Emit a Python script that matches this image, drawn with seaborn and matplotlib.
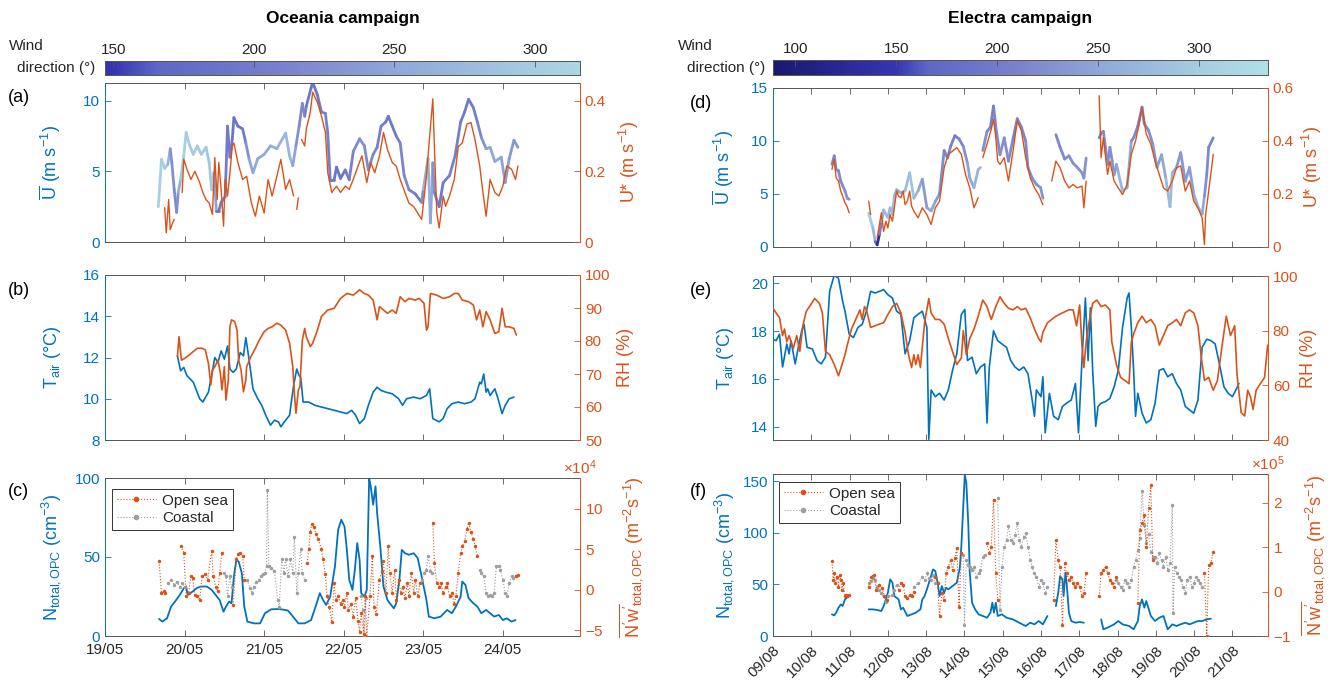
import numpy as np
import matplotlib
matplotlib.use("Agg")
import matplotlib.pyplot as plt
from matplotlib.collections import LineCollection
from matplotlib.colors import LinearSegmentedColormap, Normalize
from matplotlib.lines import Line2D
from matplotlib.ticker import ScalarFormatter, FuncFormatter
import seaborn as sns

nan = np.nan

# ---------------- Oceania campaign (days after 19/05 00:00) ----------------
oce_days = ["19/05", "20/05", "21/05", "22/05", "23/05", "24/05"]

oce_u_day = [0.67, 0.71, 0.75, 0.79, 0.82, 0.84, 0.87, 0.90, 0.92, 0.95, 0.99, 1.02, 1.06, 1.11, 1.16,
             1.21, 1.27, 1.31, 1.34, 1.37, 1.40, 1.43, 1.46, 1.51, 1.54, 1.57, 1.60, 1.62, 1.67, 1.73,
             1.77, 1.81, 1.86, 1.92, 2.00, 2.08, 2.16, 2.24, 2.27, 2.32, 2.36, 2.40, 2.44, 2.48, 2.51,
             2.53, 2.59, 2.61, 2.67, 2.72, 2.77, 2.80, 2.83, 2.88, 2.91, 2.96, 3.02, 3.07, 3.12, 3.20,
             3.26, 3.31, 3.37, 3.42, 3.47, 3.53, 3.56, 3.61, 3.66, 3.71, 3.76, 3.82, 3.90, 3.98, 4.00,
             4.06, 4.09, 4.12, 4.14, 4.20, 4.25, 4.33, 4.40, 4.47, 4.52, 4.57, 4.63, 4.68, 4.73, 4.79,
             4.84, 4.90, 4.98, 5.03, 5.08, 5.14, 5.19]
oce_u = [2.5, 5.85, 5.2, 5.5, 6.6, 5.6, 3.7, 2.1, 3.5, 4.4, 6.1, 7.75, 6.9, 6.2, 6.8,
         6.2, 6.7, 5.6, 3.7, 4.9, 2.2, 2.2, 2.8, 3.2, 8.2, 6.0, 7.3, 8.8, 8.2, 8.0,
         7.0, 5.9, 4.9, 5.9, 6.2, 6.8, 6.6, 7.4, 7.7, 6.1, 5.4, 6.8, 8.2, 9.8, 8.9,
         9.6, 10.9, 11.3, 10.4, 9.2, 9.1, 7.7, 4.4, 4.4, 5.3, 4.5, 5.1, 4.4, 6.4, 7.3,
         6.8, 5.1, 6.2, 6.7, 8.2, 8.5, 8.9, 8.2, 7.5, 7.0, 4.7, 3.7, 3.4, 2.8, 3.7,
         5.9, 1.35, 5.6, 3.5, 2.5, 4.2, 4.7, 6.1, 8.5, 9.2, 10.1, 9.5, 8.5, 7.4, 6.6,
         6.7, 5.7, 6.0, 4.2, 5.9, 7.2, 6.7]
oce_wdir = [305, 305, 300, 300, 230, 220, 225, 215, 230, 290, 300, 305, 300, 300, 295,
            295, 290, 290, 300, 300, 190, 190, 195, 200, 200, 200, 190, 185, 185, 190,
            210, 240, 250, 250, 255, 255, 260, 265, 270, 270, 265, 230, 220, 210, 215,
            200, 190, 185, 190, 200, 205, 210, 195, 190, 190, 185, 195, 200, 215, 220,
            225, 215, 215, 210, 200, 195, 190, 195, 200, 210, 215, 210, 200, 190, 250,
            270, 260, 240, 210, 190, 195, 205, 210, 200, 195, 195, 200, 205, 215, 240,
            250, 250, 250, 240, 235, 230, 235]

oce_ustar_day = [0.75, 0.77, 0.80, 0.82, 0.85, 0.87, nan,
                 0.97, 0.99, 1.03, 1.08, 1.13, 1.19, 1.23, 1.27, 1.31, 1.35, 1.38, 1.41, 1.43, 1.46,
                 1.49, 1.51, 1.54, 1.57, 1.60, 1.62, 1.67, 1.73, 1.78, 1.84, 1.89, 1.94, 2.00, 2.05,
                 2.10, 2.16, 2.21, 2.27, 2.32, 2.37, nan, 2.41, 2.43, nan,
                 2.47, 2.51, 2.53, 2.58, 2.61, 2.67, 2.72, 2.77, 2.80, 2.85, 2.91, 2.96, 3.02, 3.07,
                 3.12, 3.18, 3.23, 3.29, 3.34, 3.39, 3.45, 3.50, 3.55, 3.61, 3.66, 3.71, 3.77, 3.82,
                 3.88, 3.93, 3.98, 4.04, 4.06, 4.12, 4.14, 4.17, 4.20, 4.25, 4.28, 4.33, 4.39, 4.44,
                 4.49, 4.55, 4.60, 4.65, 4.71, 4.74, 4.79, 4.84, 4.90, 4.95, 5.00, 5.05, 5.11, 5.16,
                 5.19]
oce_ustar = [0.097, 0.026, 0.12, 0.035, 0.054, 0.064, nan,
             0.14, 0.234, 0.206, 0.177, 0.2, 0.168, 0.14, 0.12, 0.11, 0.078, 0.239, 0.12, 0.225, 0.149,
             0.045, 0.177, 0.13, 0.196, 0.272, 0.28, 0.225, 0.177, 0.186, 0.11, 0.073, 0.13, 0.082, 0.177,
             0.13, 0.186, 0.234, 0.149, 0.177, 0.13, nan, 0.092, 0.125, nan,
             0.29, 0.272, 0.32, 0.367, 0.424, 0.395, 0.357, 0.31, 0.196, 0.14, 0.158, 0.14, 0.158, 0.149,
             0.177, 0.215, 0.244, 0.168, 0.225, 0.196, 0.244, 0.31, 0.262, 0.225, 0.215, 0.177, 0.14, 0.11,
             0.1, 0.082, 0.064, 0.186, 0.244, 0.405, 0.272, 0.082, 0.04, 0.13, 0.101, 0.13, 0.177, 0.27,
             0.28, 0.334, 0.338, 0.29, 0.215, 0.158, 0.073, 0.177, 0.14, 0.13, 0.158, 0.215, 0.206, 0.177,
             0.215]

oce_tair_day = [0.91, 0.95, 0.99, 1.03, 1.11, 1.19, 1.23, 1.30, 1.34, 1.38, 1.42, 1.46, 1.50, 1.54, 1.57,
                1.61, 1.65, 1.70, 1.74, 1.77, 1.81, 1.86, 1.92, 1.97, 2.02, 2.08, 2.13, 2.18, 2.21, 2.27,
                2.32, 2.37, 2.41, 2.44, 2.46, 2.49, 2.56, 2.64, 2.72, 2.80, 2.88, 2.96, 3.04, 3.10, 3.15,
                3.20, 3.26, 3.31, 3.37, 3.42, 3.47, 3.53, 3.61, 3.69, 3.74, 3.79, 3.88, 3.96, 4.04, 4.08,
                4.12, 4.20, 4.25, 4.30, 4.36, 4.44, 4.52, 4.60, 4.65, 4.71, 4.73, 4.76, 4.79, 4.81, 4.84,
                4.90, 4.94, 4.99, 5.03, 5.08, 5.14]
oce_tair = [12.08, 11.36, 11.52, 11.12, 10.80, 10.00, 9.84, 10.32, 11.12, 12.00, 11.76, 12.32, 11.92, 12.56, 11.44,
            11.28, 11.44, 12.24, 12.08, 12.96, 11.92, 10.48, 10.00, 9.68, 9.20, 8.72, 8.96, 8.88, 8.64, 8.96,
            9.20, 10.64, 11.44, 11.12, 11.04, 9.84, 9.84, 9.68, 9.60, 9.52, 9.44, 9.36, 9.28, 9.44, 9.20,
            8.80, 9.04, 9.68, 10.32, 10.56, 10.40, 10.32, 10.24, 10.00, 9.68, 10.00, 10.08, 10.00, 10.16, 10.48,
            9.04, 8.88, 9.04, 9.52, 9.76, 9.84, 9.76, 9.84, 10.00, 10.80, 10.72, 11.20, 10.32, 10.48, 10.16,
            10.48, 10.00, 9.28, 9.68, 10.00, 10.08]

oce_rh_day = [0.91, 0.93, 0.96, 1.00, 1.06, 1.11, 1.16, 1.22, 1.26, 1.30, 1.33, 1.35, 1.38, 1.42, 1.45,
              1.47, 1.50, 1.52, 1.55, 1.57, 1.59, 1.63, 1.66, 1.68, 1.71, 1.74, 1.77, 1.78, 1.835, 1.89,
              1.94, 2.00, 2.05, 2.10, 2.16, 2.21, 2.27, 2.32, 2.36, 2.38, 2.40, 2.43, 2.45, 2.48, 2.51,
              2.53, 2.58, 2.61, 2.67, 2.72, 2.80, 2.88, 2.96, 3.04, 3.12, 3.20, 3.26, 3.31, 3.37, 3.42,
              3.45, 3.50, 3.55, 3.61, 3.66, 3.71, 3.77, 3.82, 3.90, 3.95, 4.01, 4.04, 4.06, 4.09, 4.17,
              4.25, 4.33, 4.39, 4.44, 4.49, 4.57, 4.63, 4.67, 4.71, 4.75, 4.79, 4.84, 4.90, 4.95, 4.99,
              5.03, 5.08, 5.14, 5.17]
oce_rh = [75.3, 81.3, 74.2, 74.7, 75.8, 76.8, 77.8, 77.8, 77.3, 73.2, 66.7, 71.2, 72.2, 74.2, 70.2,
          65.2, 72.2, 62.1, 68.2, 84.3, 86.4, 85.9, 83.3, 74.2, 71.2, 64.6, 68.2, 72.2, 75.3, 77.8,
          80.3, 82.8, 83.8, 84.3, 85.4, 84.8, 83.3, 79.3, 72.2, 64.1, 58.1, 65.1, 66.2, 80.3, 83.8,
          81.3, 78.3, 79.3, 83.3, 87.4, 89.4, 89.9, 92.9, 94.4, 93.9, 95.5, 94.4, 93.9, 92.4, 86.4,
          90.4, 89.4, 88.4, 89.4, 88.4, 93.4, 91.9, 92.9, 92.4, 92.9, 91.4, 83.3, 84.3, 94.4, 93.9,
          92.9, 93.4, 94.4, 94.4, 92.4, 91.9, 90.9, 86.4, 89.4, 84.3, 88.9, 86.4, 82.3, 82.8, 89.9,
          84.3, 84.3, 83.8, 81.8]

oce_n_day = [0.68, 0.72, 0.78, 0.83, 0.88, 0.94, 0.99, 1.02, 1.04, 1.10, 1.15, 1.20, 1.28, 1.34, 1.39,
             1.44, 1.49, 1.52, 1.56, 1.59, 1.62, 1.65, 1.68, 1.72, 1.75, 1.79, 1.87, 1.95, 2.01, 2.09,
             2.19, 2.30, 2.38, 2.43, 2.51, 2.59, 2.66, 2.70, 2.74, 2.78, 2.83, 2.89, 2.93, 2.97, 3.01,
             3.04, 3.07, 3.11, 3.14, 3.17, 3.20, 3.22, 3.26, 3.29, 3.32, 3.34, 3.37, 3.40, 3.42, 3.46,
             3.50, 3.55, 3.58, 3.63, 3.66, 3.70, 3.73, 3.77, 3.82, 3.88, 3.93, 3.98, 4.04, 4.07, 4.14,
             4.22, 4.30, 4.36, 4.41, 4.47, 4.49, 4.53, 4.57, 4.63, 4.68, 4.73, 4.79, 4.84, 4.89, 4.95,
             5.00, 5.05, 5.11, 5.16]
oce_n = [10.8, 9.1, 11.2, 18.6, 21.8, 26.0, 30.2, 31.3, 26.0, 28.1, 30.2, 31.3, 31.3, 29.2, 26.0,
         22.8, 15.4, 18.6, 21.8, 20.7, 37.6, 48.2, 47.1, 39.7, 18.6, 9.1, 8.0, 8.0, 14.4, 16.9,
         17.1, 16.1, 11.2, 8.0, 8.0, 10.1, 20.7, 27.1, 22.8, 19.7, 24.9, 44.0, 67.2, 73.6, 69.3,
         54.5, 35.5, 29.2, 41.9, 58.8, 48.2, 27.1, 24.9, 29.2, 99.8, 94.7, 83.1, 94.7, 77.8, 56.7,
         31.3, 22.8, 20.7, 17.5, 20.7, 35.5, 54.5, 52.4, 51.4, 52.4, 49.3, 37.6, 22.8, 12.3, 11.2,
         12.3, 16.5, 14.4, 18.6, 24.9, 34.5, 32.3, 23.9, 20.7, 18.6, 14.4, 16.5, 14.4, 12.3, 13.3,
         10.1, 11.2, 9.1, 10.1]

# turbulent number flux, units of 1e4 m-2 s-1
oce_open_day = [0.68, 0.71, 0.74, 0.76, nan,
                0.95, 0.99, 1.02, 1.05, 1.08, 1.10, 1.13, 1.16, 1.19, 1.22, 1.26, 1.29, 1.34, 1.36, 1.39,
                1.42, 1.44, 1.47, nan,
                1.61, 1.65, 1.67, 1.70, 1.73, 1.75, nan,
                2.54, 2.56, 2.58, 2.60, 2.63, 2.65, 2.68, 2.72, 2.74, 2.77, 2.79, 2.82, 2.85, 2.88, 2.90,
                2.93, 2.96, 2.99, 3.01, 3.04, 3.06, 3.09, 3.12, 3.15, 3.18, 3.20, 3.22, 3.25, 3.27, 3.29,
                3.33, 3.36, 3.38, 3.41, 3.45, 3.48, 3.50, 3.53, 3.56, 3.58, 3.61, 3.64, 3.66, 3.69, 3.72,
                3.74, 3.77, 3.80, 3.82, 3.85, 3.88, 3.90, 3.93, 3.96, nan,
                4.12, 4.14, 4.17, 4.20, 4.22, 4.25, 4.28, 4.30, 4.33, 4.36, 4.39, 4.41, 4.44, 4.47, 4.49,
                4.52, 4.55, 4.57, 4.60, 4.63, 4.65, 4.68, nan,
                5.16, 5.19]
oce_open_flux = [3.5, -0.4, -0.2, -0.4, nan,
                 5.4, 4.6, -0.8, -0.4, 1.7, 1.5, -0.6, -0.8, -1.25, 1.7, 1.9, 1.25, 4.8, 1.7, 0.4,
                 -0.2, 2.1, 4.6, nan,
                 -1.9, 3.75, 4.4, 4.6, 4.2, 1.25, nan,
                 3.3, 5.0, 7.1, 8.1, 7.7, 6.9, 6.25, 5.0, 3.75, 1.9, -0.8, -2.1, -4.0, 0.8, -1.25,
                 -0.8, -1.7, -1.25, -2.1, -0.4, -2.5, -1.7, -3.3, -1.0, -3.8, -5.2, -2.9, -5.4, -0.8, -5.8,
                 -0.8, 4.2, -2.1, -3.0, 1.25, 2.3, 3.5, -0.4, 5.4, 2.1, -0.4, 2.5, -1.25, 1.25, -0.4,
                 0.4, -1.0, 0.8, -0.8, 2.1, -0.4, 1.25, -0.8, 0.8, nan,
                 8.3, 3.3, 0.8, 0.4, 0.8, -0.4, 0.4, 0.8, -0.8, -0.4, -1.7, -0.8, 2.1, 4.6, 5.4,
                 6.0, 7.5, 8.3, 7.1, 6.25, 5.4, 4.2, nan,
                 1.7, 1.8]
oce_coast_day = [0.79, 0.83, 0.87, 0.90, 0.94, 0.97, 1.00, nan,
                 1.49, 1.52, 1.54, 1.57, 1.59, nan,
                 1.79, 1.82, 1.85, 1.87, 1.90, 1.93, 1.96, 1.98, 2.01, 2.03, 2.04, 2.06, 2.09, 2.13, 2.17,
                 2.19, 2.22, 2.25, 2.27, 2.30, 2.33, 2.36, 2.38, 2.41, 2.43, 2.46, 2.48, 2.51, nan,
                 3.22, 3.24, 3.26, 3.28, nan,
                 3.98, 4.01, 4.04, 4.06, 4.09, 4.11, nan,
                 4.71, 4.73, 4.76, 4.79, 4.81, 4.84, 4.87, 4.89, 4.92, 4.95, 4.97, 5.00, 5.03, 5.05, 5.08,
                 5.11, 5.13, 5.16]
oce_coast_flux = [0.8, 1.25, 0.6, 1.0, 0.4, 0.8, 0.4, nan,
                  2.1, 1.7, -0.8, 1.7, 0.4, nan,
                  1.25, 0.2, -0.4, 0.4, 1.0, 1.25, 1.7, 1.9, 2.1, 2.9, 12.3, 2.9, 2.7, 2.3, -1.25,
                  -2.1, 3.75, 2.1, 3.75, 1.7, 3.75, 2.1, 6.5, -0.4, 2.1, 5.0, 2.1, 1.25, nan,
                  -0.8, -2.5, -5.7, -1.0, nan,
                  1.25, 2.1, 2.5, 4.2, 2.3, 2.1, nan,
                  2.5, 2.1, 1.7, -0.4, -0.8, -0.6, -0.8, -0.4, 2.9, 2.9, 2.5, 1.25, -0.4, -0.8, 0.8,
                  1.7, 1.5, 1.7]

# ---------------- Electra campaign (days after 09/08 00:00) ----------------
ele_days = ["09/08", "10/08", "11/08", "12/08", "13/08", "14/08", "15/08", "16/08", "17/08",
            "18/08", "19/08", "20/08", "21/08"]

ele_u_day = [1.54, 1.60, 1.65, 1.71, 1.77, 1.82, 1.88, 1.94, 1.99, nan,
             2.50, 2.56, 2.61, 2.67, 2.72, 2.78, 2.84, 2.89, 2.95, 3.00, 3.06, 3.12, 3.17, 3.23, 3.34,
             3.45, 3.57, 3.68, 3.79, 3.90, 4.02, 4.13, 4.24, 4.35, 4.47, 4.56, 4.64, 4.75, 4.86, 4.97,
             5.08, 5.14, 5.25, 5.36, 5.42, nan,
             5.48, 5.59, 5.68, 5.76, 5.82, 5.93, 6.04, 6.15, 6.27, 6.38, 6.49, 6.60, 6.66, 6.77, 6.88,
             6.99, 7.05, nan,
             7.39, 7.50, 7.62, 7.73, 7.84, 7.95, 8.07, 8.12, 8.18, nan,
             8.52, 8.58, 8.63, 8.74, 8.80, 8.86, 8.91, 8.97, 9.02, 9.13, 9.25, 9.36, 9.42, 9.53, 9.64,
             9.70, 9.81, 9.92, 10.03, 10.15, 10.26, 10.37, 10.43, 10.54, 10.65, 10.77, 10.88, 10.99,
             11.10, 11.21, 11.27, 11.33, 11.38, 11.50]
ele_u = [7.8, 8.6, 7.3, 7.2, 6.2, 5.8, 5.3, 4.6, 4.5, nan,
         3.2, 2.4, 1.8, 0.5, 0.2, 1.2, 2.4, 3.5, 3.1, 2.8, 3.7, 3.1, 4.8, 5.4, 5.1,
         5.3, 7.0, 4.6, 5.3, 6.4, 3.7, 3.4, 4.3, 5.0, 9.1, 8.4, 9.5, 10.5, 10.2, 9.5,
         7.9, 6.5, 5.6, 7.3, 7.5, nan,
         9.1, 10.9, 11.3, 13.3, 11.3, 8.7, 10.3, 8.1, 10.2, 12.1, 11.3, 10.0, 7.5, 6.5, 5.9,
         5.6, 4.6, nan,
         10.6, 9.4, 8.3, 8.6, 7.9, 7.5, 7.0, 6.5, 8.4, nan,
         10.3, 10.8, 10.9, 7.8, 9.4, 8.1, 6.8, 7.8, 7.0, 5.3, 5.6, 10.0, 10.3, 11.4, 13.2,
         11.6, 11.0, 9.7, 7.5, 8.7, 6.5, 3.8, 7.0, 7.5, 8.9, 6.2, 7.5, 5.0,
         3.8, 3.1, 4.8, 6.8, 9.4, 10.3]
ele_wdir = [215, 210, 215, 215, 220, 220, 225, 225, 230, nan,
            300, 295, 290, 250, 110, 150, 260, 270, 270, 275, 270, 275, 280, 250, 255,
            265, 295, 280, 270, 230, 240, 250, 240, 230, 210, 215, 210, 205, 210, 215,
            240, 250, 255, 270, 270, nan,
            230, 215, 210, 205, 215, 225, 220, 225, 215, 205, 210, 215, 220, 225, 225,
            230, 230, nan,
            215, 215, 220, 220, 225, 225, 230, 230, 225, nan,
            215, 210, 210, 225, 220, 225, 235, 240, 260, 275, 270, 225, 220, 215, 205,
            215, 220, 225, 240, 240, 260, 285, 270, 240, 225, 240, 230, 250,
            270, 275, 230, 220, 215, 210]

ele_ustar_day = [1.54, 1.60, 1.65, 1.71, 1.77, 1.82, 1.88, 1.93, 1.99, nan,
                 2.50, 2.55, nan,
                 2.72, 2.78, 2.83, 2.89, 2.95, 3.00, 3.06, 3.12, 3.23, 3.28, 3.34, 3.40, 3.45, 3.51,
                 3.57, 3.62, 3.68, 3.79, 3.90, 4.02, 4.13, 4.24, 4.35, 4.47, 4.58, 4.69, 4.80, 4.92,
                 5.03, 5.14, 5.25, 5.36, nan,
                 5.48, 5.59, 5.70, 5.76, 5.82, 5.87, 5.93, 6.04, 6.15, 6.27, 6.38, 6.49, 6.60, 6.72,
                 6.83, 6.94, 7.05, nan,
                 7.28, 7.39, 7.50, 7.62, 7.73, 7.84, 7.95, 8.07, 8.12, 8.18, nan,
                 8.52, 8.57, 8.63, 8.74, 8.80, 8.91, 9.02, 9.13, 9.25, 9.36, 9.47, 9.58, 9.64, 9.75,
                 9.87, 9.98, 10.09, 10.20, 10.31, 10.43, 10.54, 10.65, 10.77, 10.88, 10.99, 11.10,
                 11.21, 11.27, 11.30, 11.38, 11.50]
ele_ustar = [0.293, 0.331, 0.261, 0.249, 0.211, 0.192, 0.167, 0.154, 0.129, nan,
             0.173, 0.122, nan,
             0.034, 0.085, 0.129, 0.059, 0.097, 0.072, 0.122, 0.097, 0.211, 0.192, 0.186, 0.211, 0.160, 0.173,
             0.211, 0.154, 0.135, 0.110, 0.148, 0.122, 0.085, 0.148, 0.173, 0.299, 0.350, 0.362, 0.375, 0.350,
             0.274, 0.223, 0.148, 0.186, nan,
             0.337, 0.388, 0.444, 0.482, 0.413, 0.324, 0.312, 0.337, 0.249, 0.362, 0.476, 0.438, 0.337, 0.261,
             0.223, 0.198, 0.160, nan,
             0.249, 0.324, 0.299, 0.249, 0.223, 0.236, 0.223, 0.230, 0.148, 0.249, nan,
             0.571, 0.337, 0.413, 0.274, 0.324, 0.249, 0.223, 0.198, 0.236, 0.350, 0.400, 0.476, 0.527, 0.426,
             0.388, 0.324, 0.274, 0.223, 0.211, 0.249, 0.299, 0.306, 0.211, 0.249, 0.173, 0.148,
             0.110, 0.009, 0.122, 0.211, 0.350]

ele_tair_day = [0.00, 0.08, 0.17, 0.25, 0.36, 0.42, 0.47, 0.58, 0.66, 0.75, 0.81, 0.89, 1.03, 1.15, 1.26,
                1.37, 1.48, 1.60, 1.71, 1.82, 1.88, 1.99, 2.10, 2.22, 2.33, 2.44, 2.55, 2.67, 2.78, 2.89,
                3.00, 3.12, 3.23, 3.34, 3.45, 3.57, 3.68, 3.79, 3.90, 4.02, 4.07, 4.13, 4.24, 4.35, 4.47,
                4.58, 4.69, 4.80, 4.92, 5.01, 5.08, 5.20, 5.31, 5.42, 5.53, 5.59, 5.65, 5.76, 5.87, 5.98,
                6.10, 6.21, 6.32, 6.43, 6.55, 6.66, 6.77, 6.83, 6.88, 7.00, 7.05, 7.11, 7.22, 7.33, 7.45,
                7.56, 7.67, 7.79, 7.90, 7.98, 8.07, 8.16, 8.23, 8.29, 8.35, 8.43, 8.49, 8.57, 8.68, 8.80,
                8.91, 9.02, 9.13, 9.25, 9.30, 9.36, 9.42, 9.47, 9.53, 9.64, 9.75, 9.87, 9.98, 10.09, 10.20,
                10.31, 10.43, 10.54, 10.65, 10.77, 10.88, 10.99, 11.10, 11.21, 11.33, 11.44, 11.55, 11.66,
                11.78, 11.89, 12.00, 12.11, 12.17]
ele_tair = [17.66, 17.60, 17.87, 16.50, 17.46, 17.05, 17.60, 16.63, 17.32, 18.01, 18.28, 17.32, 17.25, 16.77, 16.63,
            16.91, 19.66, 20.34, 20.20, 19.24, 18.83, 17.87, 17.73, 18.15, 18.28, 18.83, 19.66, 19.59, 19.66, 19.73,
            19.52, 19.38, 18.83, 18.70, 17.05, 17.60, 18.56, 18.70, 18.83, 18.15, 13.48, 15.54, 15.26, 15.40, 15.12,
            15.54, 16.36, 17.05, 18.70, 18.90, 16.77, 16.91, 16.22, 16.50, 16.63, 14.16, 16.50, 18.01, 17.60, 17.46,
            17.32, 16.77, 16.50, 16.36, 16.50, 16.22, 15.12, 14.44, 15.54, 15.26, 16.09, 13.75, 15.40, 14.44, 14.30,
            14.85, 14.99, 15.12, 15.81, 13.75, 16.77, 19.38, 16.77, 18.97, 16.36, 14.02, 14.85, 14.99, 15.05, 15.19,
            15.67, 16.36, 18.15, 19.38, 19.59, 18.15, 16.36, 14.44, 15.40, 14.57, 14.16, 14.30, 14.99, 16.36, 16.43,
            16.09, 16.22, 15.81, 15.54, 14.85, 14.71, 14.57, 15.12, 17.32, 17.66, 17.60, 17.46, 16.63,
            15.67, 15.40, 15.26, 15.60, 15.81]

ele_rh_day = [0.00, 0.08, 0.17, 0.25, 0.30, 0.36, 0.42, 0.53, 0.62, 0.70, 0.78, 0.87, 0.98, 1.09, 1.21,
              1.29, 1.37, 1.48, 1.60, 1.71, 1.79, 1.88, 1.94, 2.05, 2.16, 2.27, 2.33, 2.39, 2.44, 2.55,
              2.67, 2.78, 2.89, 3.00, 3.12, 3.23, 3.34, 3.45, 3.54, 3.62, 3.68, 3.73, 3.79, 3.85, 3.96,
              4.07, 4.13, 4.24, 4.35, 4.47, 4.58, 4.69, 4.80, 4.92, 4.97, 5.05, 5.14, 5.25, 5.36, 5.48,
              5.59, 5.70, 5.82, 5.93, 6.04, 6.15, 6.27, 6.38, 6.49, 6.60, 6.72, 6.83, 6.94, 7.00, 7.05,
              7.17, 7.28, 7.39, 7.56, 7.73, 7.84, 7.93, 8.01, 8.07, 8.12, 8.18, 8.24, 8.35, 8.46, 8.57,
              8.68, 8.80, 8.85, 8.97, 9.08, 9.19, 9.30, 9.36, 9.42, 9.53, 9.64, 9.75, 9.87, 9.98, 10.09,
              10.20, 10.31, 10.43, 10.54, 10.65, 10.77, 10.88, 10.99, 11.10, 11.19, 11.27, 11.38, 11.50,
              11.61, 11.72, 11.84, 11.95, 12.06, 12.12, 12.23, 12.32, 12.40, 12.47, 12.54, 12.62, 12.73,
              12.84, 12.92]
ele_rh = [88.2, 86.5, 84.7, 78.2, 80.6, 75.9, 78.2, 73.5, 78.2, 72.4, 81.8, 87.1, 89.4, 91.8, 90.0,
          86.5, 72.4, 71.2, 67.6, 63.5, 67.0, 71.2, 74.7, 80.6, 84.1, 87.6, 84.1, 88.8, 87.6, 81.2,
          81.8, 82.4, 82.9, 85.9, 88.8, 90.0, 86.5, 79.4, 71.2, 66.5, 71.2, 67.6, 71.2, 66.5, 83.0,
          91.8, 86.5, 84.1, 84.1, 82.4, 77.1, 72.4, 67.6, 70.0, 80.0, 71.2, 77.1, 80.6, 85.3, 91.2,
          88.8, 84.1, 88.8, 92.4, 90.0, 88.2, 87.6, 88.8, 87.6, 88.2, 84.7, 80.6, 77.1, 75.9, 79.4,
          82.9, 84.1, 85.3, 86.5, 87.6, 87.6, 81.8, 89.4, 74.7, 66.5, 75.9, 81.8, 90.0, 91.2, 88.8,
          89.4, 87.6, 75.9, 67.6, 62.9, 61.8, 60.6, 75.9, 78.8, 82.9, 85.3, 82.9, 84.1, 81.8, 74.7,
          78.2, 81.8, 82.9, 84.1, 81.8, 86.5, 87.6, 86.5, 81.8, 70.0, 61.8, 62.9, 58.2,
          61.8, 73.5, 85.3, 78.2, 81.8, 64.1, 50.0, 48.8, 58.2, 55.9, 51.2, 58.2, 60.6,
          62.9, 74.7]

ele_n_day = [1.54, 1.60, 1.65, 1.71, 1.77, 1.82, 1.88, 1.93, 1.99, nan,
             2.50, 2.61, 2.72, 2.83, 2.89, 2.95, 3.00, 3.06, 3.12, 3.17, 3.28, 3.34, 3.40, 3.51, 3.62,
             3.73, 3.85, 3.90, 3.96, 4.02, 4.10, 4.18, 4.24, 4.30, 4.35, 4.41, 4.47, 4.52, 4.58, 4.69,
             4.80, 4.88, 4.92, 4.97, 5.01, 5.05, 5.10, 5.14, 5.20, 5.28, 5.37, 5.48, 5.59, 5.68, 5.73,
             5.77, 5.82, 5.87, 5.98, 6.10, 6.27, 6.43, 6.60, 6.72, 6.83, 6.94, 7.05, 7.17, nan,
             7.39, 7.45, 7.50, 7.56, 7.59, 7.64, 7.67, 7.73, 7.79, 7.90, 8.01, 8.12, nan,
             8.57, 8.63, 8.74, 8.91, 9.02, 9.13, 9.30, 9.42, 9.53, 9.58, 9.64, 9.70, 9.75, 9.87, 9.98,
             10.09, 10.20, 10.31, 10.43, 10.54, 10.65, 10.77, 10.88, 10.99, 11.10, 11.21, 11.33, 11.44]
ele_n = [21.0, 20.0, 22.6, 27.4, 30.6, 29.0, 35.5, 37.1, 38.7, nan,
         25.8, 25.8, 25.2, 24.2, 29.0, 35.5, 41.9, 54.8, 51.6, 38.7, 35.5, 25.8, 27.4, 19.4, 21.0,
         22.6, 25.8, 35.5, 38.7, 45.2, 54.8, 64.5, 62.9, 51.6, 38.7, 48.4, 41.9, 46.8, 45.2, 48.4,
         51.6, 66.1, 87.1, 125.8, 156.5, 148.4, 109.7, 61.3, 32.3, 25.8, 21.0, 19.4, 17.7, 22.6, 32.3,
         22.6, 32.3, 19.4, 21.0, 17.7, 16.1, 12.9, 9.7, 12.9, 11.3, 14.5, 11.3, 19.4, nan,
         29.0, 41.9, 58.1, 54.8, 38.7, 61.3, 51.6, 22.6, 14.5, 12.9, 13.5, 12.9, nan,
         16.1, 6.5, 8.1, 11.3, 14.5, 11.3, 9.7, 6.5, 14.5, 29.0, 35.5, 27.4, 33.9, 19.4, 14.5,
         17.7, 19.4, 6.5, 11.3, 9.7, 11.3, 12.9, 11.3, 12.9, 14.5, 14.5, 16.1, 16.8]

# turbulent number flux, units of 1e5 m-2 s-1
ele_open_day = [1.54, 1.57, 1.60, 1.63, 1.68, 1.71, 1.74, 1.77, 1.80, 1.83, 1.88, 1.91, 1.94, 1.99, nan,
                2.50, 2.56, 2.63, 2.70, 2.78, 2.85, 2.91, 2.98, nan,
                3.28, 3.34, 3.40, 3.45, 3.51, 3.57, 3.62, 3.68, nan,
                4.24, 4.30, 4.35, 4.41, 4.47, 4.52, 4.58, 4.64, 4.69, 4.75, 4.80, 4.86, 4.92, nan,
                5.59, 5.65, 5.70, 5.76, 5.82, 5.87, nan,
                7.33, 7.39, 7.45, 7.50, 7.56, 7.62, 7.67, 7.73, 7.79, 7.84, 7.90, 7.95, 8.01, 8.07, 8.12,
                8.18, nan,
                8.52, 8.57, 8.63, 8.69, 8.74, 8.80, 8.86, 8.91, 8.97, nan,
                9.53, 9.58, 9.64, 9.70, 9.75, 9.81, 9.87, 9.92, nan,
                11.27, 11.33, 11.38, 11.44, 11.50]
ele_open_flux = [0.68, 0.26, 0.41, 0.19, 0.34, 0.11, 0.38, 0.26, 0.04, 0.19, -0.11, -0.08, -0.11, -0.08, nan,
                 0.11, 0.34, 0.38, 0.04, 0.15, 0.08, -0.11, -0.19, nan,
                 0.04, 0.19, 0.15, -0.11, -0.15, -0.08, -0.11, 0.0, nan,
                 0.34, 0.19, -0.56, -0.04, -0.19, 0.41, 0.56, 0.71, 0.49, 0.75, 0.98, -0.34, 0.86, nan,
                 1.09, 0.86, 1.01, 2.07, 0.41, -0.19, nan,
                 -0.19, 1.17, 0.71, 0.56, -0.75, 0.64, 0.41, 0.26, 0.34, 0.19, 0.11, 0.19, 0.11, -0.11, -0.04,
                 0.41, nan,
                 -0.11, 0.41, 0.49, 0.56, 0.41, 0.26, 0.19, 0.11, 0.34, nan,
                 -0.26, 1.39, 1.54, 1.73, 1.01, 1.88, 2.40, 0.71, nan,
                 0.41, -1.0, 0.6, 0.64, 0.9]
ele_coast_day = [2.50, 2.56, 2.61, 2.67, 2.72, 2.78, 2.83, 2.89, 2.95, 3.00, 3.12, 3.17, 3.23, nan,
                 3.68, 3.79, 3.90, 3.96, 4.02, 4.07, 4.13, 4.18, 4.24, nan,
                 4.97, 5.00, 5.05, 5.10, 5.14, 5.20, 5.25, 5.31, 5.37, 5.42, 5.48, 5.53, nan,
                 5.87, 5.93, 5.98, 6.04, 6.10, 6.15, 6.21, 6.27, 6.32, 6.38, 6.43, 6.49, 6.55, 6.60, 6.66,
                 6.72, 6.77, 6.83, 6.88, 6.94, 7.00, 7.05, 7.11, 7.17, nan,
                 8.97, 9.02, 9.08, 9.13, 9.19, 9.25, 9.30, 9.36, 9.42, 9.47, 9.53, 9.58, 9.64, 9.70, 9.75,
                 9.81, 9.87, 9.92, 9.98, 10.03, 10.09, 10.15, 10.20, 10.26, 10.31, 10.37, 10.43, 10.45,
                 10.49, 10.54, 10.60, 10.65, 10.71, 10.77, 10.82, 10.88, 10.94, 10.99, 11.05, 11.10, 11.16,
                 11.21]
ele_coast_flux = [0.19, 0.23, 0.30, 0.26, 0.11, 0.04, -0.04, -0.11, -0.23, -0.11, -0.08, 0.04, 0.15, nan,
                  0.11, 0.19, 0.34, 0.26, 0.41, 0.30, 0.26, 0.38, 0.19, nan,
                  0.83, -0.75, 0.71, 0.60, 0.56, 0.49, 0.56, 0.34, 0.41, 0.49, 0.79, 0.83, nan,
                  2.10, -0.41, 0.56, 1.01, 1.16, 1.47, 1.16, 1.09, 1.28, 1.54, 1.16, 1.01, 1.24, 1.32, 1.01,
                  0.71, 0.56, 0.41, 0.34, 0.11, 0.26, 0.19, -0.04, 0.11, nan,
                  0.26, 0.19, 0.11, 0.04, 0.26, 0.19, 0.11, 0.26, 0.56, 0.71, 0.94, 1.20, 2.26, 1.50, 1.10,
                  1.30, 0.90, 0.79, 0.79, 0.64, 0.86, 0.71, 0.56, 0.79, 0.49, 0.64, 1.95, -0.49,
                  0.56, 0.41, 0.34, 0.26, 0.11, -0.04, 0.26, 0.34, 0.11, 0.19, 0.34, 0.26, 0.19,
                  0.11]

# wind direction colour scale
wind_deg = [89, 150, 165, 210, 250, 300, 334]
wind_hex = ['#191970', '#3636b4', '#5b68c6', '#7a82cc', '#8fa8d8', '#a6cde2', '#b0e0e6']

# ---------------- styling ----------------
sns.set_style("ticks")
plt.rcParams['font.family'] = ['Liberation Sans', 'DejaVu Sans']
plt.rcParams['mathtext.fontset'] = 'custom'
plt.rcParams['mathtext.rm'] = 'Liberation Sans'
plt.rcParams['mathtext.it'] = 'Liberation Sans:italic'
plt.rcParams['mathtext.bf'] = 'Liberation Sans:bold'
plt.rcParams['axes.unicode_minus'] = False

BLUE = '#0072BD'
ORANGE = '#D95319'
PT_GRAY = '#9e9e9e'
AX_GRAY = '#555555'
TXT = '#262626'
W, H = 1333, 686

lo, hi = wind_deg[0], wind_deg[-1]
WIND = LinearSegmentedColormap.from_list(
    'wind', [((d - lo) / (hi - lo), c) for d, c in zip(wind_deg, wind_hex)])
WNORM = Normalize(lo, hi)


def box(x0, y0, x1, y1):
    return [x0 / W, 1 - y1 / H, (x1 - x0) / W, (y1 - y0) / H]


def nan_runs(t, v):
    t = np.asarray(t, float)
    v = np.asarray(v, float)
    ok = ~np.isnan(v)
    runs, start = [], None
    for i, flag in enumerate(ok):
        if flag and start is None:
            start = i
        if not flag and start is not None:
            runs.append((t[start:i], v[start:i]))
            start = None
    if start is not None:
        runs.append((t[start:], v[start:]))
    return runs


def draw(ax, t, v, **kw):
    for ts, vs in nan_runs(t, v):
        if len(ts) > 1:
            sns.lineplot(x=ts, y=vs, ax=ax, estimator=None, sort=False, legend=False, **kw)


def wind_line(ax, t, u, d, lw=2.0):
    t = np.asarray(t, float)
    u = np.asarray(u, float)
    d = np.asarray(d, float)
    segs, cols = [], []
    for i in range(len(t) - 1):
        if np.isnan(u[i]) or np.isnan(u[i + 1]):
            continue
        segs.append([(t[i], u[i]), (t[i + 1], u[i + 1])])
        cols.append(0.5 * (d[i] + d[i + 1]))
    lc = LineCollection(segs, cmap=WIND, norm=WNORM, linewidths=lw, capstyle='round', joinstyle='round')
    lc.set_array(np.array(cols))
    ax.add_collection(lc)


def style(ax, ax2, xlim, day_labels, show_x, rotate, yl, ytl, yr, ytr, lab_l, lab_r,
          lcoord, rcoord, flux_pow=None):
    ax.set_xlim(*xlim)
    ax.set_xticks(range(len(day_labels)))
    if show_x:
        if rotate:
            ax.set_xticklabels(day_labels, rotation=45, ha='right', rotation_mode='anchor')
        else:
            ax.set_xticklabels(day_labels)
    else:
        ax.set_xticklabels([])
    ax.set_ylim(*yl)
    ax.set_yticks(ytl)
    ax2.set_ylim(*yr)
    ax2.set_yticks(ytr)
    ax.yaxis.set_major_formatter(FuncFormatter(lambda v, p: f"{v:g}"))
    if flux_pow is None:
        ax2.yaxis.set_major_formatter(FuncFormatter(lambda v, p: f"{v:g}"))
    else:
        fmt = ScalarFormatter(useMathText=True)
        fmt.set_powerlimits((flux_pow, flux_pow))
        ax2.yaxis.set_major_formatter(fmt)
        ax2.yaxis.get_offset_text().set_color(ORANGE)
        ax2.yaxis.get_offset_text().set_fontsize(11)
    ax.tick_params(axis='x', direction='in', top=True, bottom=True, length=4, width=0.6,
                   colors=AX_GRAY, labelcolor=TXT, labelsize=11, pad=5)
    ax.tick_params(axis='y', direction='in', left=True, right=False, length=4, width=0.6,
                   colors=BLUE, labelcolor=BLUE, labelsize=11)
    ax2.tick_params(axis='y', direction='in', right=True, left=False, length=4, width=0.6,
                    colors=ORANGE, labelcolor=ORANGE, labelsize=11)
    for s in ['top', 'bottom']:
        ax.spines[s].set_color(AX_GRAY)
        ax.spines[s].set_linewidth(0.7)
        ax2.spines[s].set_visible(False)
    ax.spines['left'].set_color(BLUE)
    ax.spines['left'].set_linewidth(0.7)
    ax.spines['right'].set_visible(False)
    ax2.spines['left'].set_visible(False)
    ax2.spines['right'].set_color(ORANGE)
    ax2.spines['right'].set_linewidth(0.7)
    ax.set_ylabel(lab_l, color=BLUE, fontsize=13)
    ax2.set_ylabel(lab_r, color=ORANGE, fontsize=13)
    ax.yaxis.set_label_coords(lcoord, 0.5)
    ax2.yaxis.set_label_coords(rcoord, 0.5)
    ax.set_xlabel('')


def colorbar_strip(fig, rect, vmin, vmax, ticks):
    cax = fig.add_axes(rect)
    grad = np.linspace(vmin, vmax, 400)[None, :]
    cax.imshow(grad, aspect='auto', cmap=WIND, norm=WNORM, extent=[vmin, vmax, 0, 1])
    cax.set_xlim(vmin, vmax)
    cax.set_yticks([])
    cax.set_xticks(ticks)
    cax.tick_params(axis='x', direction='in', top=True, bottom=False, labeltop=True,
                    labelbottom=False, length=4, width=0.6, colors=AX_GRAY, labelcolor=TXT,
                    labelsize=11, pad=3)
    for s in cax.spines.values():
        s.set_color(AX_GRAY)
        s.set_linewidth(0.7)


def flux_legend(ax, anchor):
    handles = [Line2D([], [], color=ORANGE, ls=':', lw=0.8, marker='.', ms=6),
               Line2D([], [], color=PT_GRAY, ls=':', lw=0.8, marker='.', ms=6)]
    leg = ax.legend(handles, ['Open sea', 'Coastal'], loc='upper left', bbox_to_anchor=anchor,
                    fontsize=11, frameon=True, fancybox=False, edgecolor='black',
                    borderpad=0.3, labelspacing=0.25, handlelength=2.6, handletextpad=0.4,
                    borderaxespad=0)
    leg.get_frame().set_linewidth(0.7)


fig = plt.figure(figsize=(W / 100, H / 100), dpi=100)

U_LAB = r'$\overline{\mathrm{U}}$ (m s$^{-1}$)'
US_LAB = r'U* (m s$^{-1}$)'
T_LAB = r'T$_{\mathrm{air}}$ ($\degree$C)'
RH_LAB = 'RH (%)'
N_LAB = r'N$_{\mathrm{total,OPC}}$ (cm$^{-3}$)'
F_LAB = r"$\overline{\mathrm{N'w'}}_{\mathrm{total,OPC}}$ (m$^{-2}$s$^{-1}$)"

# ---------------- left column: Oceania ----------------
OX = (0, 5.97)
ax_a = fig.add_axes(box(105, 83, 580, 242))
ax_a2 = ax_a.twinx()
wind_line(ax_a, oce_u_day, oce_u, oce_wdir)
draw(ax_a2, oce_ustar_day, oce_ustar, color=ORANGE, linewidth=1.0)
style(ax_a, ax_a2, OX, oce_days, False, False, (0, 11.25), [0, 5, 10], (0, 0.45), [0, 0.2, 0.4],
      U_LAB, US_LAB, -0.088, 1.078)

ax_b = fig.add_axes(box(105, 275, 580, 440))
ax_b2 = ax_b.twinx()
draw(ax_b, oce_tair_day, oce_tair, color=BLUE, linewidth=1.2)
draw(ax_b2, oce_rh_day, oce_rh, color=ORANGE, linewidth=1.2)
style(ax_b, ax_b2, OX, oce_days, False, False, (8, 16), [8, 10, 12, 14, 16], (50, 100),
      [50, 60, 70, 80, 90, 100], T_LAB, RH_LAB, -0.088, 1.078)

ax_c = fig.add_axes(box(105, 478, 580, 636))
ax_c2 = ax_c.twinx()
draw(ax_c, oce_n_day, oce_n, color=BLUE, linewidth=1.3)
draw(ax_c2, oce_coast_day, np.asarray(oce_coast_flux) * 1e4, color=PT_GRAY, linewidth=0.8,
     linestyle=':', marker='.', markersize=5, markeredgewidth=0)
draw(ax_c2, oce_open_day, np.asarray(oce_open_flux) * 1e4, color=ORANGE, linewidth=0.8,
     linestyle=':', marker='.', markersize=5, markeredgewidth=0)
style(ax_c, ax_c2, OX, oce_days, True, False, (0, 100), [0, 50, 100], (-5.7e4, 13.8e4),
      [-5e4, 0, 5e4, 10e4], N_LAB, F_LAB, -0.088, 1.078, flux_pow=4)
flux_legend(ax_c2, ((112 - 105) / 475, 1 - (489 - 478) / 158))

# ---------------- right column: Electra ----------------
EX = (0, 12.93)
ax_d = fig.add_axes(box(773, 88, 1268, 247))
ax_d2 = ax_d.twinx()
wind_line(ax_d, ele_u_day, ele_u, ele_wdir)
draw(ax_d2, ele_ustar_day, ele_ustar, color=ORANGE, linewidth=1.0)
style(ax_d, ax_d2, EX, ele_days, False, True, (0, 15), [0, 5, 10, 15], (0, 0.6),
      [0, 0.2, 0.4, 0.6], U_LAB, US_LAB, -0.074, 1.064)

ax_e = fig.add_axes(box(773, 276, 1268, 440))
ax_e2 = ax_e.twinx()
draw(ax_e, ele_tair_day, ele_tair, color=BLUE, linewidth=1.2)
draw(ax_e2, ele_rh_day, ele_rh, color=ORANGE, linewidth=1.2)
style(ax_e, ax_e2, EX, ele_days, False, True, (13.45, 20.3), [14, 16, 18, 20], (40, 100),
      [40, 60, 80, 100], T_LAB, RH_LAB, -0.074, 1.064)

ax_f = fig.add_axes(box(773, 474, 1268, 636))
ax_f2 = ax_f.twinx()
draw(ax_f, ele_n_day, ele_n, color=BLUE, linewidth=1.3)
draw(ax_f2, ele_coast_day, np.asarray(ele_coast_flux) * 1e5, color=PT_GRAY, linewidth=0.8,
     linestyle=':', marker='.', markersize=5, markeredgewidth=0)
draw(ax_f2, ele_open_day, np.asarray(ele_open_flux) * 1e5, color=ORANGE, linewidth=0.8,
     linestyle=':', marker='.', markersize=5, markeredgewidth=0)
style(ax_f, ax_f2, EX, ele_days, True, True, (0, 157), [0, 50, 100, 150], (-1e5, 2.65e5),
      [-1e5, 0, 1e5, 2e5], N_LAB, F_LAB, -0.074, 1.064, flux_pow=5)
flux_legend(ax_f2, ((779 - 773) / 495, 1 - (482 - 474) / 162))

# ---------------- colour bars and titles ----------------
colorbar_strip(fig, box(105, 61, 580, 75), 147, 316, [150, 200, 250, 300])
colorbar_strip(fig, box(773, 60, 1268, 75), 89, 334, [100, 150, 200, 250, 300])

fig.text(343 / W, 1 - 18 / H, 'Oceania campaign', ha='center', va='center', fontsize=12.5,
         fontweight='bold', color='black')
fig.text(1020 / W, 1 - 18 / H, 'Electra campaign', ha='center', va='center', fontsize=12.5,
         fontweight='bold', color='black')
for x0, x1 in [(9, 95), (678, 765)]:
    fig.text(x0 / W, 1 - 46 / H, 'Wind', ha='left', va='center', fontsize=11, color=TXT)
    fig.text(x1 / W, 1 - 68 / H, 'direction (°)', ha='right', va='center', fontsize=11, color=TXT)

for lab, x, y in [('(a)', 8, 97), ('(b)', 8, 290), ('(c)', 8, 492),
                  ('(d)', 690, 103), ('(e)', 690, 290), ('(f)', 690, 492)]:
    fig.text(x / W, 1 - y / H, lab, ha='left', va='center', fontsize=13, color='black')

for a in (ax_c2, ax_f2):
    a.yaxis.get_offset_text().set_horizontalalignment('center')

fig.savefig('out.png', dpi=100)
